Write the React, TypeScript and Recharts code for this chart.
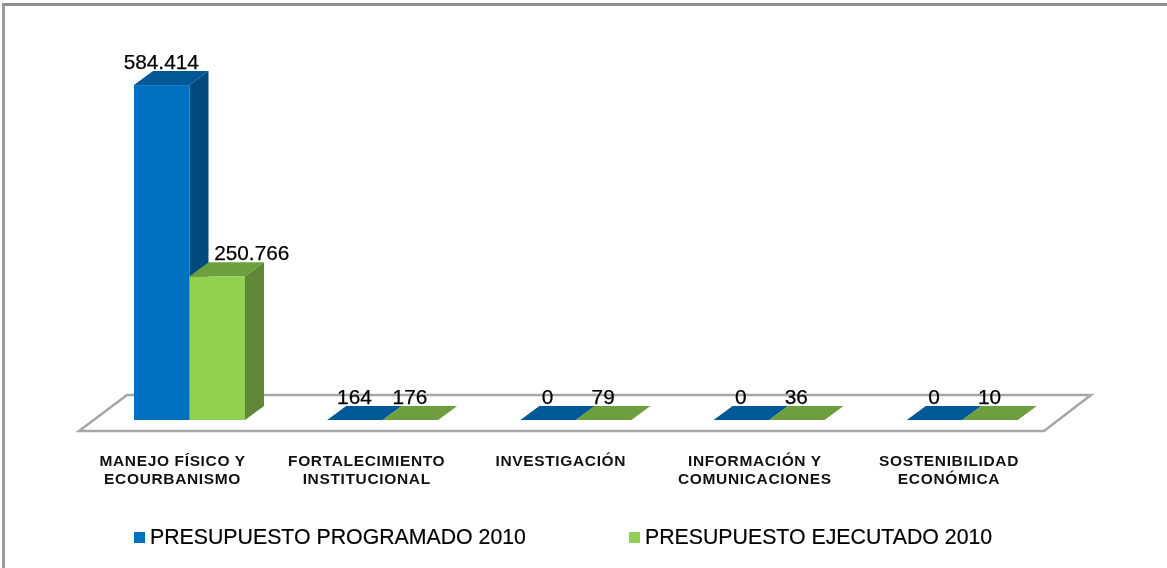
import React from "react";
import { BarChart, Bar, XAxis, YAxis, Legend, Customized } from "recharts";

const categories = [
  "MANEJO FÍSICO Y\nECOURBANISMO",
  "FORTALECIMIENTO\nINSTITUCIONAL",
  "INVESTIGACIÓN",
  "INFORMACIÓN Y\nCOMUNICACIONES",
  "SOSTENIBILIDAD\nECONÓMICA",
];
const programado = [584414, 164, 0, 0, 0];
const ejecutado = [250766, 176, 79, 36, 10];
const seriesNames = ["PRESUPUESTO PROGRAMADO 2010", "PRESUPUESTO EJECUTADO 2010"];

const data = categories.map((name, i) => ({
  name,
  programado: programado[i],
  ejecutado: ejecutado[i],
}));

const FONT = "'Liberation Sans', Arial, sans-serif";
const DEPTH_X = 19;
const DEPTH_Y = 14;

const fmt = (v: number) => v.toLocaleString("de-DE");

function bar3D(key: "programado" | "ejecutado", top: string, side: string, labelShiftFirst: number) {
  return (props: any) => {
    const { x, y, width, height, fill, payload, index } = props;
    const h = Math.max(height, 0);
    const shift = index === 0 ? labelShiftFirst : 0;
    return (
      <g>
        <rect x={x} y={y} width={width} height={h} fill={fill} />
        <polygon
          points={`${x},${y} ${x + DEPTH_X},${y - DEPTH_Y} ${x + width + DEPTH_X},${y - DEPTH_Y} ${x + width},${y}`}
          fill={top}
        />
        <polygon
          points={`${x + width},${y} ${x + width + DEPTH_X},${y - DEPTH_Y} ${x + width + DEPTH_X},${y + h - DEPTH_Y} ${x + width},${y + h}`}
          fill={side}
        />
        <text
          x={x + width / 2 + shift - 0.5}
          y={y - DEPTH_Y - 2}
          textAnchor="middle"
          fontFamily={FONT}
          fontSize={20.8}
          fill="#000"
          stroke="#000"
          strokeWidth={0.25}
        >
          {fmt(payload[key])}
        </text>
      </g>
    );
  };
}

const CategoryTick = (props: any) => {
  const { x, y, payload, index } = props;
  const lines = String(payload.value).split("\n");
  return (
    <text
      textAnchor="middle"
      fontFamily={FONT}
      fontWeight="bold"
      fontSize={15.5}
      letterSpacing={0.65}
      fill="#111"
    >
      {lines.map((line: string, i: number) => (
        <tspan key={i} x={x - 17 + index * 0.9} y={y + 38 + i * 18}>
          {line}
        </tspan>
      ))}
    </text>
  );
};

const Floor = () => (
  <polygon
    points="79,431 127,395 1091,395 1044,431"
    fill="#fff"
    stroke="#a6a6a6"
    strokeWidth={2.5}
    strokeLinejoin="miter"
  />
);

const legendX = [134, 629];
const LegendContent = (props: any) => {
  const items = [...(props.payload || [])].sort(
    (a: any, b: any) => seriesNames.indexOf(a.value) - seriesNames.indexOf(b.value)
  );
  return (
    <div style={{ position: "relative", width: 1167, height: 48 }}>
      {items.map((p: any, i: number) => (
        <React.Fragment key={i}>
          <span
            style={{
              position: "absolute",
              left: legendX[i],
              top: 12,
              width: 10.5,
              height: 10.5,
              background: p.color,
            }}
          />
          <span
            style={{
              position: "absolute",
              left: legendX[i] + 16,
              top: 4,
              fontFamily: FONT,
              fontSize: 21.3,
              lineHeight: "26px",
              color: "#000",
              whiteSpace: "nowrap",
              WebkitTextStroke: "0.2px #000",
            }}
          >
            {p.value}
          </span>
        </React.Fragment>
      ))}
    </div>
  );
};

export default function App() {
  return (
    <div
      style={{
        position: "absolute",
        left: 0,
        top: 0,
        width: 1167,
        height: 568,
        background: "#fff",
        overflow: "hidden",
      }}
    >
      <div
        style={{
          position: "absolute",
          left: 2,
          top: 3,
          width: 1200,
          height: 700,
          borderLeft: "3px solid #9c9c9c",
          borderTop: "3px solid #8f8f8f",
        }}
      />
      <div style={{ position: "absolute", left: 0, top: 0, filter: "blur(0.4px)" }}>
        <BarChart
          width={1167}
          height={568}
          data={data}
          margin={{ top: 20, right: 108, bottom: 0, left: 93 }}
          barSize={55.5}
          barGap={0}
        >
          <Customized component={<Floor />} />
          <XAxis
            dataKey="name"
            axisLine={false}
            tickLine={false}
            height={100}
            interval={0}
            tick={<CategoryTick />}
          />
          <YAxis hide domain={[0, 698000]} />
          <Legend
            verticalAlign="bottom"
            height={48}
            wrapperStyle={{ left: 0, width: 1167 }}
            content={<LegendContent />}
          />
          <Bar
            dataKey="programado"
            name={seriesNames[0]}
            fill="#0070C0"
            isAnimationActive={false}
            shape={bar3D("programado", "#005897", "#004A80", 0)}
          />
          <Bar
            dataKey="ejecutado"
            name={seriesNames[1]}
            fill="#92D050"
            isAnimationActive={false}
            shape={bar3D("ejecutado", "#6F9E3E", "#5F8736", 35)}
          />
        </BarChart>
      </div>
    </div>
  );
}
